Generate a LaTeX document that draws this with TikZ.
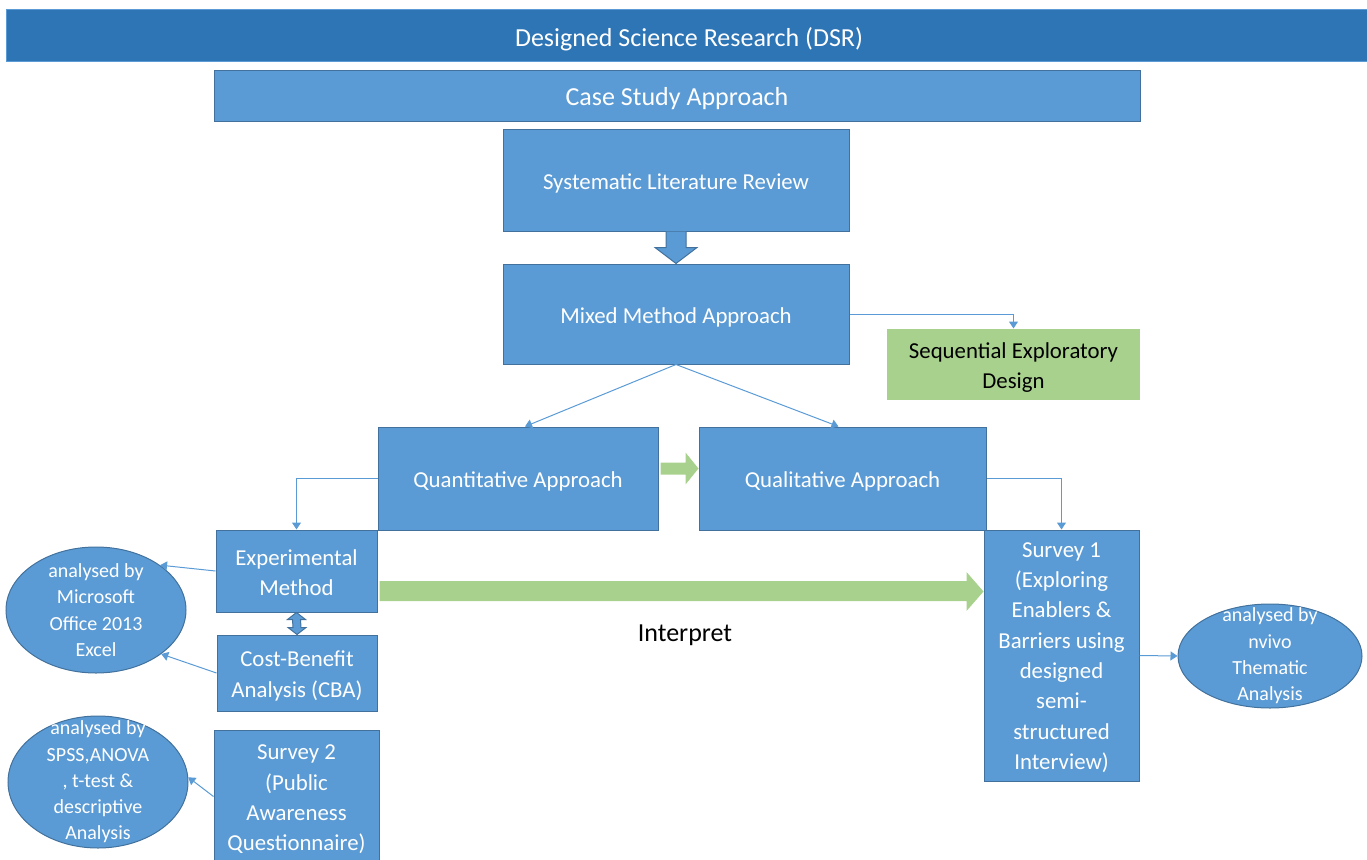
\documentclass[tikz,border=0pt]{standalone}
\usepackage{fontspec}
\setmainfont{Carlito}
\usetikzlibrary{arrows.meta,calc,shapes.geometric}
\definecolor{dsrblue}{HTML}{2E75B6}
\definecolor{boxblue}{HTML}{5B9BD5}
\definecolor{edgeblue}{HTML}{41719C}
\definecolor{leafgreen}{HTML}{A9D18E}
\begin{document}
\begin{tikzpicture}[x=1pt,y=-1pt,
  box/.style={rectangle,draw=edgeblue,line width=1pt,fill=boxblue,inner sep=0pt},
  boxtext/.style={text=white,align=center,inner sep=0pt,yshift=-3pt,font=\fontsize{22.8}{30.3}\selectfont},
  bigtext/.style={boxtext,font=\fontsize{26}{31}\selectfont},
  oval/.style={ellipse,draw=edgeblue,line width=1pt,fill=boxblue,inner sep=0pt},
  ovaltext/.style={text=white,align=center,font=\fontsize{20}{26.3}\selectfont},
  link/.style={draw=boxblue,line width=1pt,-{Triangle[width=9pt,length=7pt]}}]
\useasboundingbox (0,0) rectangle (1367,859);

\node[box,fill=dsrblue,draw=boxblue,minimum width=1366,minimum height=52,label={[bigtext]center:Designed Science Research (DSR)}] (dsr) at (689,36) {};
\node[box,minimum width=926,minimum height=51,label={[bigtext]center:Case Study Approach}] (case) at (677,96) {};
\node[box,minimum width=346,minimum height=102,label={[boxtext]center:Systematic Literature Review}] (slr) at (676,180) {};
\node[box,minimum width=346,minimum height=100,label={[boxtext]center:Mixed Method Approach}] (mixed) at (676,314) {};
\node[box,fill=leafgreen,draw=none,minimum width=253,minimum height=71,label={[boxtext,text=black]center:{Sequential Exploratory\\Design}}] (seq) at (1013.5,364.5) {};
\node[box,minimum width=280,minimum height=103,label={[boxtext]center:Quantitative Approach}] (quant) at (518,478.5) {};
\node[box,minimum width=287,minimum height=103,label={[boxtext]center:Qualitative Approach}] (qual) at (842.5,478.5) {};
\node[box,minimum width=161,minimum height=82,label={[boxtext,yshift=1pt]center:{Experimental\\Method}}] (exp) at (296.5,571) {};
\node[box,minimum width=160,minimum height=76,label={[boxtext]center:{Cost-Benefit\\Analysis (CBA)}}] (cba) at (297,673) {};
\node[box,minimum width=165,minimum height=133,label={[boxtext]center:{Survey 2\\(Public\\Awareness\\Questionnaire)}}] (survey2) at (296.5,796.5) {};
\node[box,minimum width=155,minimum height=251,label={[boxtext,yshift=1pt]center:{Survey 1\\(Exploring\\Enablers \&\\Barriers using\\designed\\semi-\\structured\\Interview)}}] (survey1) at (1061.5,655.5) {};

\node[oval,minimum width=180,minimum height=126,label={[ovaltext]center:{analysed by\\Microsoft\\Office 2013\\Excel}}] (excel) at (96,610) {};
\node[oval,minimum width=180,minimum height=132,label={[ovaltext]center:{analysed by\\SPSS,ANOVA\\, t-test \&\\descriptive\\Analysis}}] (spss) at (98,782) {};
\node[oval,minimum width=184,minimum height=104,label={[ovaltext]center:{analysed by\\nvivo\\Thematic\\Analysis}}] (nvivo) at (1270,656) {};

\node[font=\fontsize{26}{31}\selectfont] (interpret) at (685,635) {Interpret};

% block arrows
\draw[draw=edgeblue,fill=boxblue,line width=1pt] ($(slr.south)+(-10,0)$) -- ($(slr.south)+(-10,16)$) -- ($(slr.south)+(-21,16)$) -- (mixed.north) -- ($(slr.south)+(21,16)$) -- ($(slr.south)+(10,16)$) -- ($(slr.south)+(10,0)$);
\draw[draw=edgeblue,fill=boxblue,line width=1pt] (exp.south) -- ($(exp.south)+(9,7)$) -- ($(exp.south)+(4,7)$) -- ($(cba.north)+(4,-7)$) -- ($(cba.north)+(9,-7)$) -- (cba.north) -- ($(cba.north)+(-9,-7)$) -- ($(cba.north)+(-4,-7)$) -- ($(exp.south)+(-4,7)$) -- ($(exp.south)+(-9,7)$) -- cycle;
\fill[leafgreen] ($(quant.east)+(2,-16)$) -- ($(quant.east)+(27,-16)$) -- ($(quant.east)+(27,-26)$) -- ($(qual.west)+(0,-10)$) -- ($(quant.east)+(27,6)$) -- ($(quant.east)+(27,-4)$) -- ($(quant.east)+(2,-4)$) -- cycle;
\fill[leafgreen] ($(exp.east)+(2,10)$) -- ($(exp.east)+(589,10)$) -- ($(exp.east)+(589,1)$) -- ($(survey1.west)+(0,-64)$) -- ($(exp.east)+(589,40)$) -- ($(exp.east)+(589,30)$) -- ($(exp.east)+(2,30)$) -- cycle;

% connectors
\draw[link] (mixed.east) -| (seq.north);
\draw[link] (mixed.south) -- ($(quant.north)+(7,0)$);
\draw[link] (mixed.south) -- ($(qual.north)+(-4,0)$);
\draw[link] (quant.west) -| (exp.north);
\draw[link] (qual.east) -| (survey1.north);
\draw[link] (exp.west) -- (excel.35);
\draw[link] (cba.west) -- (excel.-34);
\draw[link] (survey2.west) -- (spss.3);
\draw[link] (survey1.east) -- (nvivo.west);
\end{tikzpicture}
\end{document}
